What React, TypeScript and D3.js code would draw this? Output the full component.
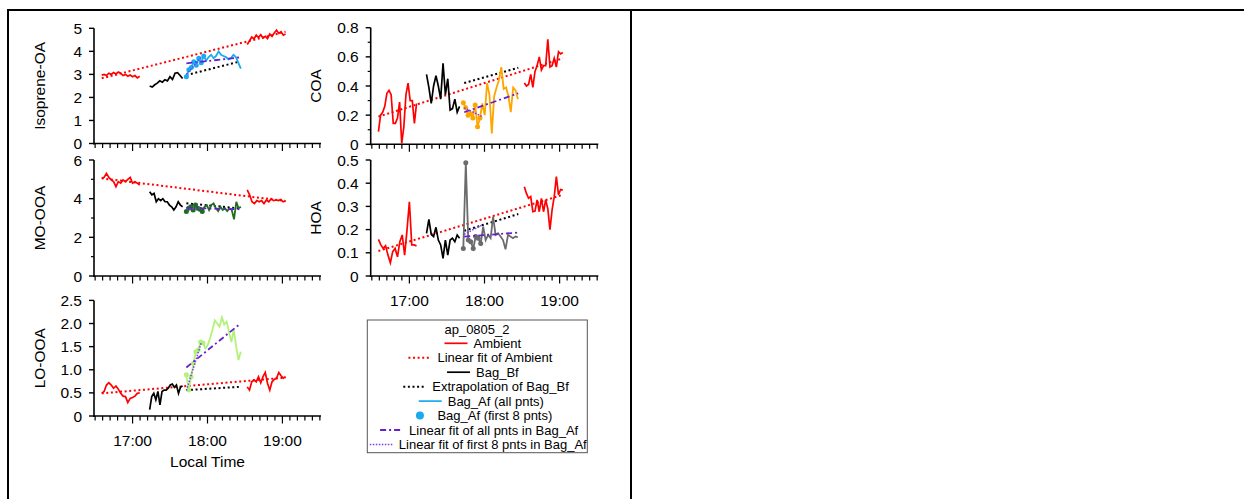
import React from 'react';
import * as d3 from 'd3';

const W = 1244;
const H = 499;
const FONT = 'Liberation Sans, Arial, Helvetica, sans-serif';
const FS = 15.5;

// sampling windows (decimal hours, local time)
const ambEarlySpan = [16.588, 17.095];
const ambLateSpan = [18.53, 19.042];
const bagBfSpan = [17.228, 17.668];
const bagAfSpan = [17.718, 18.445];
const timeDomain = [16.485, 19.515];
const hourTicks = [17, 18, 19];
const hourLabels = ['17:00', '18:00', '19:00'];

// Isoprene-OA
const isoAmbEarly = [2.97, 3.0, 2.95, 3.05, 3.0, 3.08, 3.02, 3.1, 3.05, 2.95, 3.0, 2.92, 2.97, 2.9, 2.95, 2.85, 2.92];
const isoAmbLate = [4.3, 4.45, 4.62, 4.55, 4.7, 4.6, 4.72, 4.58, 4.65, 4.55, 4.75, 4.65, 4.8, 4.92, 4.78, 4.85, 4.7, 4.75];
const isoBagBf = [2.5, 2.45, 2.55, 2.62, 2.72, 2.66, 2.77, 2.72, 2.9, 2.78, 3.05, 3.07, 2.95, 2.82];
const isoBagAf = [2.9, 3.2, 3.3, 3.55, 3.4, 3.7, 3.5, 3.8, 3.6, 3.75, 3.85, 3.7, 3.8, 4.0, 3.85, 3.8, 3.75, 3.65, 3.7, 3.85, 3.75, 3.5, 3.25];
// fits: [t0, v0, t1, v1]
const isoAmbFit = [16.588, 2.83, 19.042, 4.85];
const isoBfExtrap = [17.718, 2.97, 18.42, 3.55];
const isoAfFitAll = [17.718, 3.48, 18.44, 3.74];
const isoAfFit8 = [17.718, 3.0, 17.92, 3.75];

// COA
const coaAmbEarly = [0.087, 0.2, 0.22, 0.26, 0.35, 0.37, 0.34, 0.144, 0.144, 0.18, 0.29, 0.007, 0.12, 0.34, 0.42, 0.3, 0.3, 0.144, 0.28];
const coaAmbLate = [0.42, 0.4, 0.41, 0.48, 0.39, 0.5, 0.54, 0.6, 0.51, 0.54, 0.54, 0.72, 0.53, 0.54, 0.59, 0.53, 0.635, 0.62, 0.63];
const coaBagBf = [0.48, 0.39, 0.28, 0.4, 0.47, 0.4, 0.31, 0.555, 0.34, 0.45, 0.235, 0.245, 0.31, 0.22, 0.26];
const coaBagAf = [0.285, 0.25, 0.2, 0.21, 0.18, 0.27, 0.12, 0.18, 0.28, 0.2, 0.42, 0.34, 0.075, 0.33, 0.39, 0.44, 0.53, 0.38, 0.39, 0.33, 0.22, 0.39, 0.37, 0.31];
const coaAmbFit = [16.588, 0.19, 19.042, 0.59];
const coaBfExtrap = [17.73, 0.42, 18.45, 0.525];
const coaAfFitAll = [17.73, 0.22, 18.45, 0.35];
const coaAfFit8 = [17.73, 0.25, 17.97, 0.19];

// MO-OOA
const moAmbEarly = [5.05, 5.1, 5.31, 5.1, 4.97, 4.88, 4.62, 4.88, 4.8, 4.97, 4.88, 5.0, 5.1, 4.8, 4.88, 4.8, 4.7];
const moAmbLate = [4.45, 4.2, 3.84, 3.75, 3.9, 3.84, 3.9, 3.75, 3.93, 3.84, 4.0, 3.9, 3.93, 3.9, 3.96, 3.84, 3.88];
const moBagBf = [4.36, 4.2, 4.27, 3.84, 4.0, 3.9, 4.0, 3.84, 3.84, 3.67, 3.58, 3.41, 3.58, 3.84, 3.67, 3.58];
const moBagAf = [3.33, 3.5, 3.58, 3.41, 3.67, 3.5, 3.45, 3.33, 3.58, 3.67, 3.41, 3.67, 3.76, 3.5, 3.36, 3.58, 3.41, 3.5, 3.36, 3.5, 3.41, 2.93, 3.84, 3.5, 3.58];
const moAmbFit = [16.588, 5.05, 19.042, 3.88];
const moBfExtrap = [17.718, 3.76, 18.42, 3.5];
const moAfFitAll = [17.718, 3.52, 18.44, 3.45];
const moAfFit8 = [17.718, 3.45, 17.92, 3.52];

// HOA
const hoaAmbEarly = [0.158, 0.134, 0.119, 0.13, 0.09, 0.057, 0.105, 0.119, 0.083, 0.148, 0.177, 0.09, 0.198, 0.32, 0.134, 0.134, 0.13];
const hoaAmbLate = [0.385, 0.356, 0.335, 0.342, 0.277, 0.28, 0.328, 0.277, 0.335, 0.277, 0.328, 0.29, 0.2, 0.285, 0.342, 0.428, 0.35, 0.373, 0.37];
const hoaBagBf = [0.184, 0.244, 0.18, 0.17, 0.21, 0.155, 0.134, 0.076, 0.155, 0.09, 0.155, 0.163, 0.148, 0.177, 0.163];
const hoaBagAf = [0.119, 0.488, 0.155, 0.148, 0.119, 0.17, 0.163, 0.14, 0.213, 0.155, 0.177, 0.163, 0.256, 0.177, 0.184, 0.17, 0.155, 0.115, 0.177, 0.17, 0.163, 0.17, 0.167];
const hoaAmbFit = [16.588, 0.108, 19.042, 0.35];
const hoaBfExtrap = [17.73, 0.195, 18.45, 0.267];
const hoaAfFitAll = [17.73, 0.17, 18.45, 0.187];
const hoaAfFit8 = [17.73, 0.18, 17.97, 0.22];

// LO-OOA
const loAmbEarly = [0.49, 0.53, 0.67, 0.72, 0.67, 0.6, 0.65, 0.58, 0.49, 0.43, 0.42, 0.29, 0.38, 0.4, 0.43, 0.49, 0.5];
const loAmbLate = [0.63, 0.56, 0.74, 0.78, 0.74, 0.85, 0.72, 0.85, 0.94, 0.71, 0.56, 0.74, 0.79, 0.82, 0.94, 0.87, 0.82, 0.85];
const loBagBf = [0.14, 0.42, 0.49, 0.35, 0.53, 0.24, 0.53, 0.56, 0.56, 0.6, 0.67, 0.69, 0.62, 0.67, 0.49, 0.63, 0.65];
const loBagAf = [0.89, 0.56, 0.85, 1.14, 1.39, 1.43, 1.6, 1.58, 1.46, 1.53, 1.68, 1.86, 2.07, 2.0, 1.93, 2.13, 1.98, 2.04, 1.82, 1.6, 1.86, 1.51, 1.21, 1.39];
const loAmbFit = [16.588, 0.49, 19.042, 0.83];
const loBfExtrap = [17.718, 0.56, 18.42, 0.63];
const loAfFitAll = [17.718, 1.05, 18.44, 2.0];
const loAfFit8 = [17.718, 0.55, 17.92, 1.6];

const RED = '#ff0000';
const FIT_ALL = '#6420d0';
const FIT_8 = '#7b3cf5';

const panels = [
  {
    name: 'Isoprene-OA', x0: 94, x1: 321, yTop: 28.3, yBottom: 143.5, yDomain: [0, 5],
    major: [0, 1, 2, 3, 4, 5], labels: ['0', '1', '2', '3', '4', '5'], minor: [],
    ambEarly: isoAmbEarly, ambLate: isoAmbLate, bf: isoBagBf, af: isoBagAf, afColor: '#1aaaf0',
    ambFit: isoAmbFit, bfExtrap: isoBfExtrap, fitAll: isoAfFitAll, fit8: isoAfFit8, timeLabels: false,
  },
  {
    name: 'COA', x0: 370.7, x1: 598.3, yTop: 27.7, yBottom: 144.3, yDomain: [0, 0.8],
    major: [0, 0.2, 0.4, 0.6, 0.8], labels: ['0', '0.2', '0.4', '0.6', '0.8'], minor: [0.1, 0.3, 0.5, 0.7],
    ambEarly: coaAmbEarly, ambLate: coaAmbLate, bf: coaBagBf, af: coaBagAf, afColor: '#ffa500',
    ambFit: coaAmbFit, bfExtrap: coaBfExtrap, fitAll: coaAfFitAll, fit8: coaAfFit8, timeLabels: false,
  },
  {
    name: 'MO-OOA', x0: 94, x1: 321, yTop: 160, yBottom: 276, yDomain: [0, 6],
    major: [0, 2, 4, 6], labels: ['0', '2', '4', '6'], minor: [1, 3, 5],
    ambEarly: moAmbEarly, ambLate: moAmbLate, bf: moBagBf, af: moBagAf, afColor: '#1e6e1e',
    ambFit: moAmbFit, bfExtrap: moBfExtrap, fitAll: moAfFitAll, fit8: moAfFit8, timeLabels: false,
  },
  {
    name: 'HOA', x0: 370.7, x1: 598.3, yTop: 160, yBottom: 276, yDomain: [0, 0.5],
    major: [0, 0.1, 0.2, 0.3, 0.4, 0.5], labels: ['0', '0.1', '0.2', '0.3', '0.4', '0.5'], minor: [],
    ambEarly: hoaAmbEarly, ambLate: hoaAmbLate, bf: hoaBagBf, af: hoaBagAf, afColor: '#6b6b6b',
    ambFit: hoaAmbFit, bfExtrap: hoaBfExtrap, fitAll: hoaAfFitAll, fit8: hoaAfFit8, timeLabels: true,
  },
  {
    name: 'LO-OOA', x0: 94, x1: 321, yTop: 300.4, yBottom: 416, yDomain: [0, 2.5],
    major: [0, 0.5, 1, 1.5, 2, 2.5], labels: ['0', '0.5', '1.0', '1.5', '2.0', '2.5'], minor: [],
    ambEarly: loAmbEarly, ambLate: loAmbLate, bf: loBagBf, af: loBagAf, afColor: '#b2f27a',
    ambFit: loAmbFit, bfExtrap: loBfExtrap, fitAll: loAfFitAll, fit8: loAfFit8, timeLabels: true,
  },
];

type Pt = [number, number];

// place samples evenly across their sampling window
const onSpan = (span: number[], vals: number[]): Pt[] =>
  vals.map((v, i) => [span[0] + ((span[1] - span[0]) * i) / (vals.length - 1), v]);

const fitPts = (f: number[]): Pt[] => [[f[0], f[1]], [f[2], f[3]]];

function Panel({p}: {p: any}) {
  const x = d3.scaleLinear().domain(timeDomain).range([p.x0, p.x1]);
  const y = d3.scaleLinear().domain(p.yDomain).range([p.yBottom, p.yTop]);
  const line = d3.line<Pt>().x(d => x(d[0])).y(d => y(d[1]));
  const af = onSpan(bagAfSpan, p.af);
  const minorX = d3.range(16.5, 19.5001, 0.1);
  const labelX = p.x0 < 200 ? 39 : 315;
  const midY = (p.yTop + p.yBottom) / 2;
  const dotted = {fill: 'none', strokeWidth: 2, strokeDasharray: '2 2.6'};

  return (
    <g>
      {/* data */}
      <path d={line(onSpan(ambEarlySpan, p.ambEarly)) || ''} fill="none" stroke={RED} strokeWidth={1.7} />
      <path d={line(onSpan(ambLateSpan, p.ambLate)) || ''} fill="none" stroke={RED} strokeWidth={1.7} />
      <path d={line(fitPts(p.ambFit)) || ''} stroke={RED} {...dotted} />
      <path d={line(onSpan(bagBfSpan, p.bf)) || ''} fill="none" stroke="#000" strokeWidth={1.7} />
      <path d={line(fitPts(p.bfExtrap)) || ''} stroke="#000" {...dotted} />
      <path d={line(af) || ''} fill="none" stroke={p.afColor} strokeWidth={1.8} />
      {af.slice(0, 8).map((d, i) => (
        <circle key={i} cx={x(d[0])} cy={y(d[1])} r={2.5} fill={p.afColor} />
      ))}
      <path d={line(fitPts(p.fitAll)) || ''} fill="none" stroke={FIT_ALL} strokeWidth={1.8} strokeDasharray="6 3 2 3" />
      <path d={line(fitPts(p.fit8)) || ''} fill="none" stroke={FIT_8} strokeWidth={1.5} strokeDasharray="1.5 1.5" />

      {/* y axis */}
      <line x1={p.x0} x2={p.x0} y1={p.yTop} y2={p.yBottom + 1} stroke="#000" strokeWidth={1.6} />
      {p.major.map((v: number, i: number) => (
        <g key={'ym' + i}>
          <line x1={p.x0 - 5} x2={p.x0} y1={y(v)} y2={y(v)} stroke="#000" strokeWidth={1.4} />
          <text x={p.x0 - 12} y={y(v)} dy="0.36em" textAnchor="end" fontSize={FS} fontFamily={FONT}>
            {p.labels[i]}
          </text>
        </g>
      ))}
      {p.minor.map((v: number, i: number) => (
        <line key={'yn' + i} x1={p.x0 - 3} x2={p.x0} y1={y(v)} y2={y(v)} stroke="#000" strokeWidth={1.2} />
      ))}
      <text
        transform={`translate(${labelX},${midY}) rotate(-90)`}
        textAnchor="middle"
        dy="0.36em"
        fontSize={FS}
        fontFamily={FONT}
      >
        {p.name}
      </text>

      {/* x axis */}
      <line x1={p.x0 - 0.8} x2={p.x1} y1={p.yBottom} y2={p.yBottom} stroke="#000" strokeWidth={1.6} />
      {minorX.map((t, i) => {
        const isMajor = Math.abs(t - Math.round(t)) < 0.01;
        return (
          <line key={'xt' + i} x1={x(t)} x2={x(t)} y1={p.yBottom} y2={p.yBottom + (isMajor ? 7.5 : 4.5)} stroke="#000" strokeWidth={1.2} />
        );
      })}
      {p.timeLabels &&
        hourTicks.map((t, i) => (
          <text key={'xl' + i} x={x(t)} y={p.yBottom + 24} dy="0.36em" textAnchor="middle" fontSize={FS} fontFamily={FONT}>
            {hourLabels[i]}
          </text>
        ))}
    </g>
  );
}

const legendRows = [
  {label: 'Ambient', kind: 'line', color: RED},
  {label: 'Linear fit of Ambient', kind: 'dot', color: RED},
  {label: 'Bag_Bf', kind: 'line', color: '#000'},
  {label: 'Extrapolation of Bag_Bf', kind: 'dot', color: '#000'},
  {label: 'Bag_Af (all pnts)', kind: 'line', color: '#1aaaf0'},
  {label: 'Bag_Af (first 8 pnts)', kind: 'marker', color: '#1aaaf0'},
  {label: 'Linear fit of all pnts in Bag_Af', kind: 'dashdot', color: FIT_ALL},
  {label: 'Linear fit of first 8 pnts in Bag_Af', kind: 'fine', color: FIT_8},
];

function Legend() {
  const cx = 477;
  const rowY = (i: number) => 343.3 + i * 14.45;
  const textW = (s: string) => s.length * 5.15;
  return (
    <g fontFamily={FONT} fontSize={13}>
      <rect x={367.3} y={320} width={220} height={132.7} fill="#fff" stroke="#555" strokeWidth={1} />
      <text x={cx} y={329.3} dy="0.36em" textAnchor="middle">ap_0805_2</text>
      {legendRows.map((r, i) => {
        const sym = 23;
        const gap = 6;
        const total = sym + gap + textW(r.label);
        const sx = cx - total / 2;
        const yy = rowY(i);
        let mark;
        if (r.kind === 'line') mark = <line x1={sx} x2={sx + sym} y1={yy} y2={yy} stroke={r.color} strokeWidth={1.7} />;
        else if (r.kind === 'dot') mark = <line x1={sx} x2={sx + sym} y1={yy} y2={yy} stroke={r.color} strokeWidth={2} strokeDasharray="2 2.6" />;
        else if (r.kind === 'dashdot') mark = <line x1={sx} x2={sx + sym} y1={yy} y2={yy} stroke={r.color} strokeWidth={1.8} strokeDasharray="6 3 2 3" />;
        else if (r.kind === 'fine') mark = <line x1={sx} x2={sx + sym} y1={yy} y2={yy} stroke={r.color} strokeWidth={1.5} strokeDasharray="1.5 1.5" />;
        else mark = <circle cx={sx + sym / 2} cy={yy} r={4} fill={r.color} />;
        return (
          <g key={i}>
            {mark}
            <text x={sx + sym + gap} y={yy} dy="0.36em">{r.label}</text>
          </g>
        );
      })}
    </g>
  );
}

export default function App() {
  return (
    <svg width={W} height={H} style={{position: 'absolute', left: 0, top: 0, background: '#fff'}}>
      <rect x={0} y={0} width={W} height={H} fill="#fff" />
      {/* page frame */}
      <line x1={7} x2={W} y1={10} y2={10} stroke="#000" strokeWidth={2} />
      <line x1={8} x2={8} y1={9} y2={H} stroke="#000" strokeWidth={2} />
      <line x1={631} x2={631} y1={9} y2={H} stroke="#000" strokeWidth={2} />
      {panels.map((p, i) => (
        <Panel key={i} p={p} />
      ))}
      <text x={207.5} y={461.7} dy="0.36em" textAnchor="middle" fontSize={FS} fontFamily={FONT}>
        Local Time
      </text>
      <Legend />
    </svg>
  );
}
